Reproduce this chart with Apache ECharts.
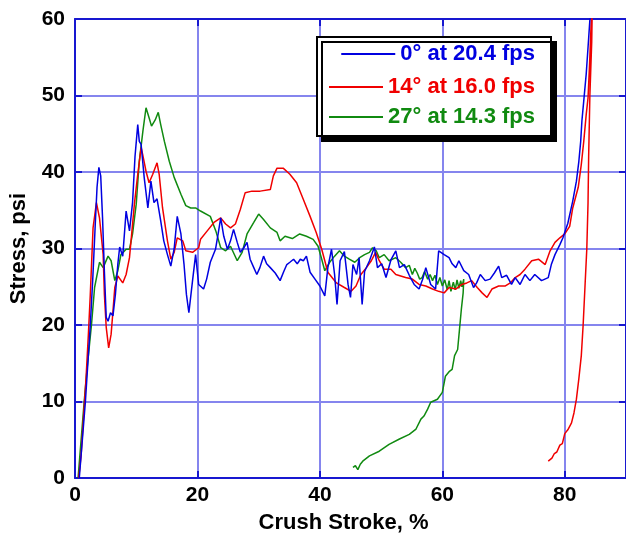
<!DOCTYPE html>
<html>
<head>
<meta charset="utf-8">
<script src="https://cdn.jsdelivr.net/npm/echarts@6/dist/echarts.min.js"></script>
<style>html,body{margin:0;padding:0;background:#fff}#c{width:626px;height:539px}</style>
</head>
<body>
<div id="c"></div>
<script>
// Series names
const seriesNames = ['0° at 20.4 fps', '14° at 16.0 fps', '27° at 14.3 fps'];

// X ticks / Y ticks
const xTicks = [0, 20, 40, 60, 80];
const yTicks = [0, 10, 20, 30, 40, 50, 60];

// [crush stroke %, stress psi]
const data0deg = [
 [0.7,0],[1.3,6],[1.7,10],[2.1,15],[2.5,20],[2.9,26],[3.3,33],[3.6,38],[3.9,40.6],[4.2,39.5],[4.5,34],[4.8,27],[5.1,21],[5.4,20.5],[5.8,21.6],[6.2,21.2],[6.6,24],[7.0,28],[7.3,30.2],[7.8,29],[8.35,34.9],[8.9,32.3],[9.4,36],[9.8,42],[10.25,46.2],[10.5,44],[10.8,43.6],[11.3,39.3],[11.9,35.3],[12.4,38.8],[12.9,36],[13.4,36.5],[14,33.6],[14.5,31],[15.1,29.2],[15.65,27.7],[16.2,30],[16.7,34.2],[17.3,31.9],[17.8,28],[18.2,24],[18.6,21.6],[19.2,25.8],[19.7,29.2],[20.2,25.3],[21,24.7],[21.5,26],[22.1,28.2],[22.95,29.9],[23.4,32],[23.8,34],[24.3,31.6],[24.9,29.9],[25.4,31],[25.9,32.5],[26.5,30.8],[27,29.5],[27.5,30],[28.1,30.8],[28.6,28.6],[29.2,27.5],[29.7,26.6],[30.2,27.5],[30.8,29],[31.3,28],[31.9,27.5],[32.7,26.8],[33.5,25.8],[34.1,27],[34.6,27.9],[35.1,28.2],[35.7,28.6],[36.3,28],[36.8,28.6],[37.3,28.4],[37.8,29],[38.4,26.9],[39.2,26],[40,25.1],[40.8,23.8],[41.3,27.5],[41.9,29.9],[42.4,26.6],[42.8,22.7],[43.3,28.4],[44,29.6],[44.6,25.3],[45,23.6],[45.4,27.9],[46,26.6],[46.4,28.8],[46.9,22.7],[47.3,27],[48.1,28.4],[48.9,30.2],[49.4,27.5],[50.1,28],[50.8,26.2],[51.6,28.5],[52.4,29.7],[53,27.5],[53.8,27.9],[54.6,26.5],[55.4,25.3],[56.2,24.7],[56.8,26],[57.3,27.5],[58.1,25.3],[58.9,24.7],[59.4,29.7],[60.3,29.2],[61.1,28.8],[61.6,28],[62.2,27.5],[62.7,28.4],[63.5,27.1],[64.3,26.6],[65.1,24.9],[65.6,25.5],[66.2,26.6],[67,25.8],[67.8,26],[68.5,26.8],[69.2,27.7],[69.7,26.2],[70.5,26.5],[71.3,25.3],[71.9,26.2],[72.7,25.3],[73.5,26.6],[74.3,25.8],[75.1,26.6],[76.2,25.8],[77.3,26.2],[77.8,27.9],[78.4,29.2],[79.2,30.5],[79.7,31.4],[80.5,33.3],[81.3,36.2],[81.9,38.8],[82.3,41.4],[82.6,44],[82.8,46.7],[83.1,49.3],[83.5,52.8],[83.8,56.3],[84.05,59.3],[84.3,62]
];

const data14deg = [
 [0.6,0],[1.0,3],[1.4,8],[1.8,13],[2.2,19],[2.5,24],[2.95,32.7],[3.5,36],[4,34],[4.6,29.2],[4.8,24],[5.1,19.7],[5.5,17],[5.9,18.8],[6.2,21.8],[6.5,24.9],[7,26.4],[7.8,25.5],[8.35,26.6],[8.9,28.8],[9.2,31.4],[9.7,35.8],[10.25,39.7],[10.8,43.2],[11.05,42.3],[11.6,40.1],[12.1,38.6],[12.7,39.7],[13.4,41.2],[13.75,39.7],[14.3,35.3],[15.1,31],[15.65,28.6],[16.2,29.5],[16.7,31.4],[17.6,31],[18.1,29.7],[19.2,29.5],[20.2,30.1],[20.5,31.2],[21.6,32.3],[22.7,33.4],[23.8,34],[24.6,33.2],[25.4,32.7],[26.2,33.2],[27,35.1],[27.8,37.3],[28.9,37.5],[30.25,37.5],[31.9,37.7],[32.4,39.5],[33,40.5],[34,40.5],[35.1,39.7],[36.2,38.6],[37.3,36.4],[38.4,34.2],[39.4,32.1],[40.3,29.9],[41.3,26.9],[42.7,25.5],[44,24.9],[45.1,24.4],[45.9,25.1],[46.7,26.6],[47.6,27.5],[48.4,28.4],[49.1,29.5],[49.7,28.4],[50.5,27.3],[51.6,27.3],[52.4,26.6],[53.2,26.4],[54,26.2],[55.1,26],[56.2,25.3],[57.3,25.1],[58.4,24.7],[59.4,24.4],[60.3,24.2],[61.1,24.9],[62.2,24.7],[63.2,25.3],[64,25.5],[64.8,25.8],[65.7,24.9],[66.5,24.2],[67.3,23.6],[68.1,24.7],[69.2,25.1],[70.3,25.1],[71.1,25.5],[71.9,26.2],[72.7,26.6],[73.5,27.3],[74.6,28.4],[75.7,28.6],[76.8,27.9],[77.6,29.7],[78.4,30.8],[79.2,31.4],[80,31.9],[80.8,32.9],[81.3,35.3],[82.2,38],[82.7,41],[83.1,44],[83.5,47.5],[83.8,49.7],[84.05,54.1],[84.3,59.3],[84.5,62],
 [84.7,62],[84.4,57],[84.1,50],[83.9,42],[83.8,36],[83.6,30],[83.3,25],[83.0,20],[82.7,16],[82.3,13],[81.9,10.3],[81.5,8.5],[81.1,7.2],[80.5,6.3],[80.0,5.8],[79.6,4.5],[79.2,4.3],[78.7,3.4],[78.3,3.2],[77.9,2.6],[77.3,2.2]
];

const data27deg = [
 [0.5,0],[1.0,5],[1.5,10],[2.0,14.5],[2.7,20.1],[3.2,24.9],[4,28.2],[4.6,27.5],[5.4,29],[5.9,28.4],[6.5,25.8],[7,27.1],[7.5,29.2],[8.35,29.9],[8.9,29.9],[9.4,31.9],[10,35.8],[10.5,41.4],[11.1,45.4],[11.6,48.4],[12.1,47.1],[12.5,46],[13.1,46.8],[13.6,47.8],[14,46.2],[14.6,44],[15.4,41.4],[16.2,39.3],[17.3,37.1],[18.1,35.6],[18.9,35.3],[19.7,35.3],[20.5,34.9],[22.1,34.2],[23,32.3],[23.8,30.1],[24.6,29.7],[25.4,30.3],[26.5,28.4],[27.3,29.5],[28.1,31.9],[29.2,33.4],[30,34.5],[30.8,33.8],[31.9,32.7],[33,32.1],[33.5,31],[34.3,31.6],[35.5,31.3],[36.7,31.9],[37.8,31.6],[38.9,31.2],[39.7,30.3],[40.3,28.6],[40.8,27.1],[41.6,28.2],[42.4,29],[43.2,29.7],[44,29],[44.8,28.6],[45.7,28.2],[46.5,28.8],[47.3,29.2],[48.1,29.5],[48.6,30.1],[49.2,29.7],[49.7,28.8],[50.5,29.2],[51.3,28.4],[52.4,28.8],[53.2,28.2],[54,27.5],[54.6,27.8],[55.1,26.6],[55.5,27.4],[55.9,26.8],[56.3,26.0],[56.7,26.2],[57.1,27],[57.6,26],[58,26.6],[58.4,25.8],[58.8,26.5],[59.2,25.3],[59.6,26.2],[60,25.1],[60.4,25.9],[60.8,24.6],[61.1,25.8],[61.4,24.4],[61.8,25.6],[62.1,24.6],[62.4,25.9],[62.7,24.8],[63,25.8],[63.2,25.0],[63.5,26],
 [63.4,24.2],[63.1,22],[62.8,19.4],[62.5,16.8],[62,16],[61.6,14.2],[61.1,13.9],[60.5,13.3],[60,11.2],[59.2,10.3],[58.1,9.9],[57.6,9],[57,8.1],[56.5,7.7],[55.7,6.4],[54.6,5.7],[53,5.1],[51.3,4.4],[49.7,3.5],[48.1,2.9],[47,2.2],[46.6,1.8],[46.2,1.1],[45.8,1.6],[45.4,1.4]
];

const colors = ['#0000e0', '#f00000', '#108a10'];
const FONT = "'Liberation Sans', Arial, Helvetica, sans-serif";
const AXIS_BLUE = '#1818d0';
const GRID_BLUE = '#8585ee';

const chart = echarts.init(document.getElementById('c'), null, {renderer: 'canvas'});

const baseAxisLine = {show: true, onZero: false, lineStyle: {color: AXIS_BLUE, width: 2}};
const baseTick = {show: true, inside: true, length: 7, lineStyle: {color: AXIS_BLUE, width: 2}};
const labelStyle = {color: '#000', fontWeight: 'bold', fontSize: 21, fontFamily: FONT};

const legendTops = [43, 76, 106];

chart.setOption({
  backgroundColor: '#fff',
  animation: false,
  grid: {left: 73, top: 19, right: -2, bottom: 60, containLabel: false},
  xAxis: [
    {
      type: 'value', min: 0, max: 90, interval: 20, position: 'bottom',
      axisLine: baseAxisLine, axisTick: baseTick,
      axisLabel: Object.assign({margin: 7, showMaxLabel: false,
        formatter: v => xTicks.includes(v) ? String(v) : ''}, labelStyle),
      splitLine: {show: true, lineStyle: {color: GRID_BLUE, width: 2}},
      name: 'Crush Stroke, %', nameLocation: 'middle', nameGap: 34,
      nameTextStyle: {color: '#000', fontWeight: 'bold', fontSize: 22, fontFamily: FONT, padding: [0, 14, 0, 0]}
    },
    {
      type: 'value', min: 0, max: 90, interval: 20, position: 'top',
      axisLine: baseAxisLine, axisTick: baseTick,
      axisLabel: {show: false}, splitLine: {show: false}
    }
  ],
  yAxis: [
    {
      type: 'value', min: 0, max: 60, interval: 10, position: 'left',
      axisLine: baseAxisLine, axisTick: baseTick,
      axisLabel: Object.assign({margin: 10,
        formatter: v => yTicks.includes(v) ? String(v) : ''}, labelStyle),
      splitLine: {show: true, lineStyle: {color: GRID_BLUE, width: 2}},
      name: 'Stress, psi', nameLocation: 'middle', nameGap: 45,
      nameTextStyle: {color: '#000', fontWeight: 'bold', fontSize: 22, fontFamily: FONT}
    },
    {
      type: 'value', min: 0, max: 60, interval: 10, position: 'right',
      axisLine: baseAxisLine, axisTick: baseTick,
      axisLabel: {show: false}, splitLine: {show: false}
    }
  ],
  legend: seriesNames.map((n, i) => ({
    data: [n], orient: 'vertical', right: 91, top: legendTops[i], padding: 0,
    icon: 'rect', itemWidth: 54, itemHeight: 2, itemGap: 0,
    selectedMode: false, z: 12,
    textStyle: {color: colors[i], fontWeight: 'bold', fontSize: 22, fontFamily: FONT}
  })),
  graphic: [{
    type: 'rect', left: 316, top: 36, z: 10,
    shape: {width: 234, height: 99},
    style: {fill: '#fff', stroke: '#000', lineWidth: 2,
      shadowColor: '#000', shadowBlur: 0, shadowOffsetX: 5, shadowOffsetY: 5}
  }],
  series: [data0deg, data14deg, data27deg].map((d, i) => ({
    name: seriesNames[i], type: 'line', data: d, symbol: 'none', clip: true,
    xAxisIndex: 0, yAxisIndex: 0,
    lineStyle: {color: colors[i], width: 1.5}, itemStyle: {color: colors[i]},
    z: 3 + (2 - i)
  }))
});
</script>
</body>
</html>
